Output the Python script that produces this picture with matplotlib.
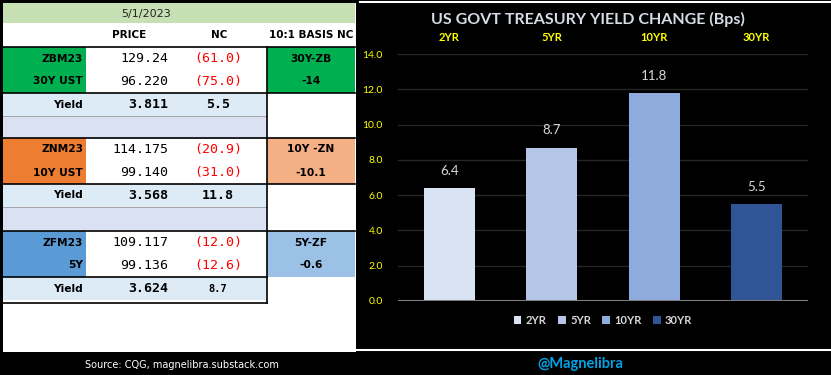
import matplotlib
matplotlib.use("Agg")
import matplotlib.pyplot as plt
from matplotlib.patches import Rectangle
from matplotlib.lines import Line2D

# ---------------- data ----------------
tenors = ['2YR', '5YR', '10YR', '30YR']
yield_change = [6.4, 8.7, 11.8, 5.5]
bar_colors = ['#DAE3F3', '#B4C7E7', '#8FAADC', '#2F5597']
yticks = [0, 2, 4, 6, 8, 10, 12, 14]

date_str = '5/1/2023'
col_headers = ['PRICE', 'NC', '10:1 BASIS NC']
contracts = ['ZBM23', 'ZNM23', 'ZFM23']
cash_names = ['30Y UST', '10Y UST', '5Y']
fut_price = ['129.24', '114.175', '109.117']
fut_nc = ['(61.0)', '(20.9)', '(12.0)']
cash_price = ['96.220', '99.140', '99.136']
cash_nc = ['(75.0)', '(31.0)', '(12.6)']
yields = ['3.811', '3.568', '3.624']
yield_nc = ['5.5', '11.8', '8.7']
basis_label = ['30Y-ZB', '10Y -ZN', '5Y-ZF']
basis_nc = ['-14', '-10.1', '-0.6']

# ---------------- styling ----------------
label_colors = ['#00B050', '#ED7D31', '#5B9BD5']
basis_colors = ['#00B050', '#F4B084', '#9BC2E6']
W, H = 831, 375

fig = plt.figure(figsize=(W / 100, H / 100), dpi=100, facecolor='black')
ov = fig.add_axes([0, 0, 1, 1])
ov.set_xlim(0, W)
ov.set_ylim(H, 0)
ov.axis('off')
ov.set_facecolor('black')

mono = 'DejaVu Sans Mono'
sans = 'DejaVu Sans'

# white panel
ov.add_patch(Rectangle((3, 3), 353, 349, facecolor='white', edgecolor='none'))
# header
ov.add_patch(Rectangle((3, 3), 352, 20, facecolor='#C6E0B4', edgecolor='none'))
ov.text(146, 14, date_str, ha='center', va='center', fontsize=8, family=sans, color='#222222')
# column headers
for x, t in zip([129, 219, 311], col_headers):
    ov.text(x, 35, t, ha='center', va='center', fontsize=7.5, family=sans,
            fontweight='bold', color='black')

block_tops = [47, 138, 231]
rh = 23
for i, top in enumerate(block_tops):
    ov.add_patch(Rectangle((3, top), 83, 2 * rh, facecolor=label_colors[i], edgecolor='none'))
    ov.add_patch(Rectangle((267, top), 88, 2 * rh, facecolor=basis_colors[i], edgecolor='none'))
    ov.add_patch(Rectangle((3, top + 2 * rh), 264, rh, facecolor='#DDEBF7', edgecolor='none'))
    if i < 2:
        ov.add_patch(Rectangle((3, top + 3 * rh), 264, rh, facecolor='#D9E1F2', edgecolor='none'))
        ov.add_line(Line2D([3, 267], [top + 3 * rh, top + 3 * rh], color='#999999', lw=0.6))
    ov.add_line(Line2D([3, 355], [top, top], color='black', lw=1.2))
    ov.add_line(Line2D([3, 355] if i < 2 else [3, 267], [top + 2 * rh, top + 2 * rh],
                       color='black', lw=1.2))
    y1 = top + rh / 2
    y2 = top + 1.5 * rh
    y3 = top + 2.5 * rh
    ov.text(83, y1, contracts[i], ha='right', va='center', fontsize=7.7, family=sans,
            fontweight='bold', color='black')
    ov.text(83, y2, cash_names[i], ha='right', va='center', fontsize=7.7, family=sans,
            fontweight='bold', color='black')
    ov.text(168, y1, fut_price[i], ha='right', va='center', fontsize=9.5, family=mono, color='black')
    ov.text(168, y2, cash_price[i], ha='right', va='center', fontsize=9.5, family=mono, color='black')
    ov.text(218, y1, fut_nc[i], ha='center', va='center', fontsize=9.5, family=mono, color='#FF0000')
    ov.text(218, y2, cash_nc[i], ha='center', va='center', fontsize=9.5, family=mono, color='#FF0000')
    ov.text(311, y1, basis_label[i], ha='center', va='center', fontsize=7.7, family=sans,
            fontweight='bold', color='black')
    ov.text(311, y2, basis_nc[i], ha='center', va='center', fontsize=7.7, family=sans,
            fontweight='bold', color='black')
    ov.text(83, y3, 'Yield', ha='right', va='center', fontsize=7.7, family=sans,
            fontweight='bold', color='black')
    ov.text(168, y3, yields[i], ha='right', va='center', fontsize=9.5, family=mono,
            fontweight='bold', color='black')
    ov.text(218, y3, yield_nc[i], ha='center', va='center', fontsize=9.5 if i < 2 else 7.5,
            family=mono, fontweight='bold', color='black')

ov.add_line(Line2D([267, 267], [47, 303], color='black', lw=1.2))
ov.add_line(Line2D([3, 267], [303, 303], color='black', lw=1.2))

ov.text(182, 365, 'Source: CQG, magnelibra.substack.com', ha='center', va='center',
        fontsize=7, family=sans, color='white')

# chart frame lines
ov.add_line(Line2D([360, W], [2, 2], color='white', lw=1.5))
ov.add_line(Line2D([356, W], [350, 350], color='white', lw=1.5))

ov.text(588, 19, 'US GOVT TREASURY YIELD CHANGE (Bps)', ha='center', va='center',
        fontsize=11.5, family='Lato', fontweight='bold', color='#D6DCE5')
ov.text(580, 364, '@Magnelibra', ha='center', va='center', fontsize=10.5,
        family='Lato', fontweight='bold', color='#00A2E8')

# ---------------- bar chart ----------------
ax = fig.add_axes([398 / W, (H - 301) / H, 410 / W, 247 / H])
ax.set_facecolor('black')
x = list(range(len(tenors)))
ax.bar(x, yield_change, width=0.5, color=bar_colors, zorder=3)
ax.set_xlim(-0.5, len(tenors) - 0.5)
ax.set_ylim(0, 14)
ax.set_yticks(yticks)
ax.set_yticklabels([f'{v:.1f}' for v in yticks], color='#FFFF00', fontsize=7.5, family='Lato')
ax.tick_params(axis='y', length=0, pad=11)
ax.xaxis.tick_top()
ax.set_xticks(x)
ax.set_xticklabels(tenors, color='#FFFF00', fontsize=8, family='Lato', fontweight='bold')
ax.tick_params(axis='x', length=0, pad=8)
ax.grid(axis='y', color='#262626', lw=1, zorder=0)
for s in ax.spines.values():
    s.set_visible(False)
ax.axhline(0, color='#7F7F7F', lw=1.5, zorder=4)
for xi, v in zip(x, yield_change):
    ax.annotate(f'{v:.1f}', (xi, v), xytext=(0, 8), textcoords='offset points',
                ha='center', va='bottom', fontsize=9.5, family='Lato', color='#D9D9D9')

handles = [Rectangle((0, 0), 1, 1, facecolor=c) for c in bar_colors]
leg = ax.legend(handles, tenors, loc='center', bbox_to_anchor=(0.5, -0.08), ncol=4,
                frameon=False, handlelength=0.7, handleheight=0.7, handletextpad=0.4,
                columnspacing=1.0, prop={'family': 'Lato', 'size': 8, 'weight': 'bold'})
for t in leg.get_texts():
    t.set_color('#D9D9D9')

fig.savefig('out.png', dpi=100, facecolor='black')
